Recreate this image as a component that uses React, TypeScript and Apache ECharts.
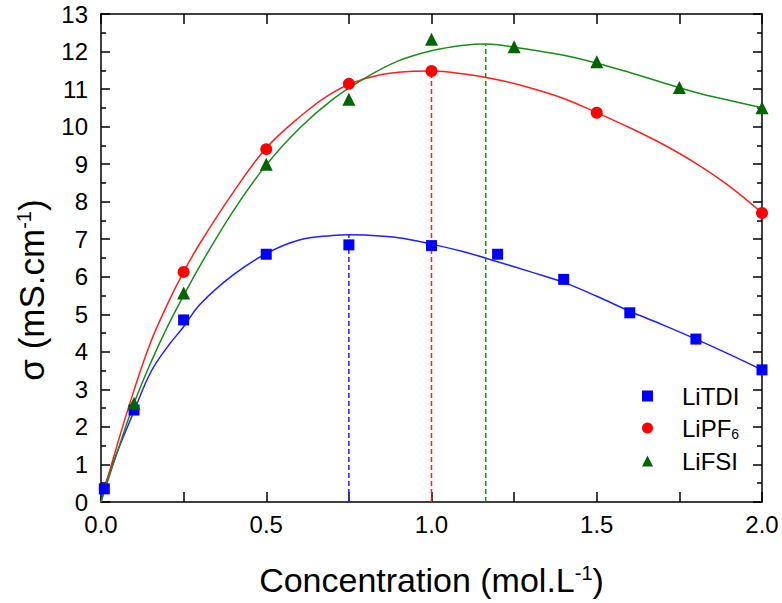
import React, { useEffect, useRef } from "react";
import * as echarts from "echarts";

// Measured points
const concTDI = [0.01, 0.1, 0.25, 0.5, 0.75, 1.0, 1.2, 1.4, 1.6, 1.8, 2.0];
const sigmaTDI = [0.35, 2.45, 4.85, 6.6, 6.85, 6.83, 6.6, 5.93, 5.04, 4.34, 3.52];
const concPF6 = [0.25, 0.5, 0.75, 1.0, 1.5, 2.0];
const sigmaPF6 = [6.13, 9.4, 11.14, 11.48, 10.37, 7.7];
const concFSI = [0.1, 0.25, 0.5, 0.75, 1.0, 1.25, 1.5, 1.75, 2.0];
const sigmaFSI = [2.63, 5.57, 9.0, 10.73, 12.33, 12.13, 11.73, 11.04, 10.5];

// Fitted curves
const fitXTDI = [0, 0.05, 0.1, 0.15, 0.2, 0.25, 0.3, 0.4, 0.5, 0.6, 0.7, 0.75, 0.8, 0.9, 1.0, 1.1, 1.2, 1.3, 1.4, 1.5, 1.6, 1.7, 1.8, 1.9, 2.0];
const fitYTDI = [0.15, 1.35, 2.42, 3.45, 4.12, 4.67, 5.27, 6.05, 6.62, 6.98, 7.1, 7.12, 7.11, 7.04, 6.87, 6.66, 6.4, 6.13, 5.85, 5.48, 5.08, 4.72, 4.34, 3.94, 3.52];
const fitXPF6 = [0, 0.05, 0.1, 0.15, 0.2, 0.25, 0.3, 0.4, 0.5, 0.6, 0.7, 0.8, 0.9, 1.0, 1.1, 1.2, 1.3, 1.4, 1.5, 1.6, 1.7, 1.8, 1.9, 2.0];
const fitYPF6 = [0, 1.55, 2.98, 4.25, 5.25, 6.13, 6.9, 8.25, 9.43, 10.25, 10.9, 11.28, 11.45, 11.48, 11.4, 11.25, 11.03, 10.75, 10.37, 9.97, 9.53, 9.02, 8.42, 7.7];
const fitXFSI = [0, 0.05, 0.1, 0.15, 0.2, 0.25, 0.3, 0.4, 0.5, 0.6, 0.7, 0.8, 0.9, 1.0, 1.1, 1.16, 1.2, 1.3, 1.4, 1.5, 1.6, 1.7, 1.8, 1.9, 2.0];
const fitYFSI = [0, 1.35, 2.63, 3.7, 4.65, 5.5, 6.3, 7.75, 8.98, 9.95, 10.72, 11.3, 11.75, 12.02, 12.17, 12.2, 12.18, 12.05, 11.9, 11.69, 11.44, 11.17, 10.91, 10.7, 10.5];

// Optimum concentrations (dashed drop lines)
const peakConc = [0.75, 1.0, 1.164];
const peakSigma = [7.12, 11.48, 12.2];

const seriesNames = ["LiTDI", "LiPF6", "LiFSI"];
const xTicks = [0, 0.5, 1.0, 1.5, 2.0];

const FONT = "'Liberation Sans', Arial, sans-serif";

const zip = (xs: number[], ys: number[]) => xs.map((x, i) => [x, ys[i]]);

export default function App() {
  const ref = useRef<HTMLDivElement>(null);
  useEffect(() => {
    if (!ref.current) return;
    document.body.style.margin = "0";
    const chart = echarts.init(ref.current, undefined, { renderer: "svg" });
    const markerColors = ["#0000ff", "#ff0000", "#006400"];
    const lineColors = ["#1f1fff", "#ff1f1f", "#1a8a1a"];
    const symbols = ["rect", "circle", "triangle"];
    const symbolSizes = [11, 12, 13];
    const pts = [zip(concTDI, sigmaTDI), zip(concPF6, sigmaPF6), zip(concFSI, sigmaFSI)];
    const fits = [zip(fitXTDI, fitYTDI), zip(fitXPF6, fitYPF6), zip(fitXFSI, fitYFSI)];

    const axisLine = { lineStyle: { color: "#000", width: 1.5 } };
    const tickStyle = { color: "#000", width: 1.5 };
    const baseX = {
      type: "value",
      min: 0,
      max: 2,
      interval: 0.5,
      splitLine: { show: false },
      minorSplitLine: { show: false },
      axisTick: { inside: true, length: 10, lineStyle: tickStyle },
      minorTick: { show: true, splitNumber: 2, length: 10, lineStyle: tickStyle },
    };
    const baseY = {
      type: "value",
      min: 0,
      max: 13,
      interval: 1,
      splitLine: { show: false },
      minorSplitLine: { show: false },
      axisTick: { inside: true, length: 9, lineStyle: tickStyle },
      minorTick: { show: true, splitNumber: 2, length: 5, lineStyle: tickStyle },
    };

    const series: any[] = [];
    for (let i = 0; i < 3; i++) {
      series.push({
        name: "fit" + i,
        type: "line",
        data: fits[i],
        smooth: 0.4,
        showSymbol: false,
        symbol: "none",
        lineStyle: { color: lineColors[i], width: 1.5 },
        z: 2,
      });
      series.push({
        name: "peak" + i,
        type: "line",
        data: [
          [peakConc[i], 0],
          [peakConc[i], peakSigma[i]],
        ],
        symbol: "none",
        lineStyle: { color: lineColors[i], width: 1.5, type: [5, 3] },
        z: 2,
      });
    }
    for (let i = 0; i < 3; i++) {
      series.push({
        name: seriesNames[i],
        type: "scatter",
        data: pts[i],
        symbol: symbols[i],
        symbolSize: symbolSizes[i],
        itemStyle: { color: markerColors[i], opacity: 1 },
        clip: false,
        z: 4,
      });
    }

    chart.setOption({
      animation: false,
      backgroundColor: "#fff",
      grid: { left: 101, right: 20, top: 14, bottom: 101, containLabel: false },
      graphic: [
        {
          type: "text",
          x: 31,
          y: 290,
          rotation: Math.PI / 2,
          style: {
            text: "σ (mS.cm{sup|-1})",
            fill: "#000",
            fontSize: 35,
            fontFamily: FONT,
            align: "center",
            verticalAlign: "middle",
            rich: {
              sup: { fontSize: 20, fontFamily: FONT, fill: "#000", verticalAlign: "top" },
            },
          },
        },
      ],
      xAxis: [
        {
          ...baseX,
          position: "bottom",
          axisLine: { ...axisLine, onZero: false },
          axisLabel: {
            color: "#000",
            fontSize: 24,
            fontFamily: FONT,
            margin: 10,
            formatter: (v: number) => (xTicks.includes(v) ? v.toFixed(1) : ""),
          },
          name: "Concentration (mol.L{sup|-1})",
          nameLocation: "middle",
          nameGap: 61,
          nameTextStyle: {
            color: "#000",
            fontSize: 34,
            fontFamily: FONT,
            rich: {
              sup: { fontSize: 20, fontFamily: FONT, color: "#000", verticalAlign: "top" },
            },
          },
        },
        {
          ...baseX,
          position: "top",
          axisLine: { ...axisLine, onZero: false },
          axisLabel: { show: false },
        },
      ],
      yAxis: [
        {
          ...baseY,
          position: "left",
          axisLine: { ...axisLine, onZero: false },
          axisLabel: { color: "#000", fontSize: 24, fontFamily: FONT, margin: 13 },
        },
        {
          ...baseY,
          position: "right",
          axisLine: { ...axisLine, onZero: false },
          axisLabel: { show: false },
        },
      ],
      legend: {
        orient: "vertical",
        left: 637,
        top: 379,
        itemWidth: 11,
        itemHeight: 11,
        itemGap: 8,
        data: seriesNames,
        formatter: (n: string) => (n === "LiPF6" ? "LiPF{sub|6}" : n),
        textStyle: {
          color: "#000",
          fontSize: 24,
          fontFamily: FONT,
          padding: [0, 0, 0, 24],
          rich: {
            sub: { fontSize: 14, fontFamily: FONT, color: "#000", verticalAlign: "bottom", padding: [12, 0, 0, 0] },
          },
        },
      },
      series,
    });
    return () => chart.dispose();
  }, []);
  return <div ref={ref} style={{ width: 782, height: 603 }} />;
}
